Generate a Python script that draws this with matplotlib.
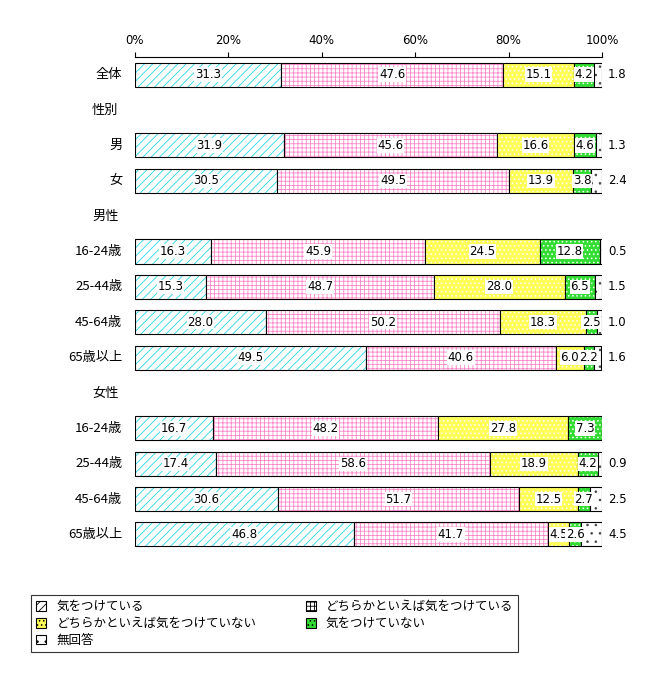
import matplotlib.pyplot as plt
import matplotlib.transforms as mtrans

plt.rcParams['font.family'] = ['Noto Sans CJK JP', 'DejaVu Sans']
plt.rcParams['hatch.linewidth'] = 1.0

rows = ['全体', '性別', '男', '女', '男性', '16-24歳', '25-44歳', '45-64歳', '65歳以上',
        '女性', '16-24歳', '25-44歳', '45-64歳', '65歳以上']
headers = ['性別', '男性', '女性']
cats = ['気をつけている', 'どちらかといえば気をつけている',
        'どちらかといえば気をつけていない', '気をつけていない', '無回答']

v1 = [31.3, None, 31.9, 30.5, None, 16.3, 15.3, 28.0, 49.5, None, 16.7, 17.4, 30.6, 46.8]
v2 = [47.6, None, 45.6, 49.5, None, 45.9, 48.7, 50.2, 40.6, None, 48.2, 58.6, 51.7, 41.7]
v3 = [15.1, None, 16.6, 13.9, None, 24.5, 28.0, 18.3, 6.0, None, 27.8, 18.9, 12.5, 4.5]
v4 = [4.2, None, 4.6, 3.8, None, 12.8, 6.5, 2.5, 2.2, None, 7.3, 4.2, 2.7, 2.6]
v5 = [1.8, None, 1.3, 2.4, None, 0.5, 1.5, 1.0, 1.6, None, 0.0, 0.9, 2.5, 4.5]
series = [v1, v2, v3, v4, v5]

faces = ['white', 'white', '#ffff55', '#33dd33', 'white']
hcols = ['#22d8e8', '#ff88cc', 'white', 'white', '#444444']
hatches = ['////', '++++', '....', '....', '..']

fig = plt.figure(figsize=(6.6, 6.75), dpi=100)
ax = fig.add_axes([0.2045, 0.182, 0.7075, 0.7336])
n = len(rows)
ax.set_ylim(n - 0.5, -0.5)
ax.set_xlim(0, 100)

plt.rcParams['hatch.linewidth'] = 0.6
for i in range(n):
    if v1[i] is None:
        continue
    left = 0
    for k, s in enumerate(series):
        w = s[i]
        ax.barh(i, w, left=left, height=0.68, color=faces[k], hatch=hatches[k],
                edgecolor=hcols[k], linewidth=0)
        ax.barh(i, w, left=left, height=0.68, fill=False, edgecolor='black', linewidth=0.8)
        if k < 4:
            ax.text(left + w / 2, i, f'{w:.1f}', ha='center', va='center', fontsize=8.5,
                    family='DejaVu Sans',
                    bbox=dict(facecolor='white', edgecolor='none', pad=0.5))
        elif w > 0:
            ax.text(101.3, i, f'{w:.1f}', ha='left', va='center', fontsize=8.5,
                    family='DejaVu Sans', clip_on=False)
        left += w

tr = mtrans.blended_transform_factory(ax.transAxes, ax.transData)
for i, r in enumerate(rows):
    if r in headers:
        ax.text(-0.092, i, r, transform=tr, ha='left', va='center', fontsize=9.5)
    else:
        ax.text(-0.027, i, r, transform=tr, ha='right', va='center', fontsize=9.5)

ax.set_yticks([])
ax.xaxis.tick_top()
ax.set_xticks(range(0, 101, 20))
ax.set_xticklabels([f'{t}%' for t in range(0, 101, 20)], fontsize=8.5, family='DejaVu Sans')
for sp in ['right', 'bottom', 'left']:
    ax.spines[sp].set_visible(False)

order = [0, 2, 4, 1, 3]
handles = [plt.Rectangle((0, 0), 1, 1, facecolor=faces[k], hatch=hatches[k],
                         edgecolor='black', linewidth=0.8) for k in order]
leg = fig.legend(handles, [cats[k] for k in order], loc='lower left',
                 bbox_to_anchor=(0.038, 0.025, 0.757, 0.1),
                 mode='expand', ncol=2, fontsize=9, frameon=True, fancybox=False,
                 handlelength=0.8, handleheight=0.8, borderpad=0.4, labelspacing=0.3,
                 edgecolor='black')
leg.get_frame().set_linewidth(0.8)

fig.savefig('out.png')
